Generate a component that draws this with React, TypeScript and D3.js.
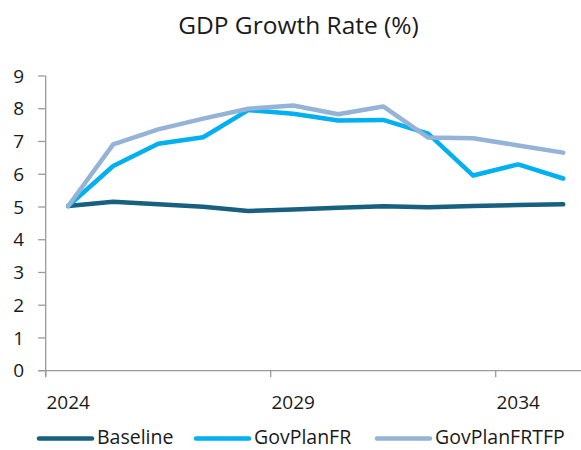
import React, { useEffect, useRef } from "react";
import * as d3 from "d3";

const years = [2024, 2025, 2026, 2027, 2028, 2029, 2030, 2031, 2032, 2033, 2034, 2035];
const baseline = [5.03, 5.16, 5.08, 5.01, 4.88, 4.92, 4.98, 5.02, 4.99, 5.03, 5.06, 5.08];
const govPlanFR = [5.03, 6.25, 6.93, 7.13, 7.96, 7.85, 7.64, 7.66, 7.24, 5.96, 6.3, 5.87];
const govPlanFRTFP = [5.03, 6.91, 7.37, 7.7, 8.0, 8.1, 7.83, 8.07, 7.12, 7.1, 6.88, 6.66];
const seriesNames = ["Baseline", "GovPlanFR", "GovPlanFRTFP"];
const seriesColors = ["#17607f", "#00b0f0", "#95b3d7"];
const yTicks = [0, 1, 2, 3, 4, 5, 6, 7, 8, 9];
const labelYears = [2024, 2029, 2034];

const W = 581;
const H = 450;
const FONT = "'Open Sans', 'Noto Sans', sans-serif";

export default function App() {
  const ref = useRef<SVGSVGElement | null>(null);

  useEffect(() => {
    const svg = d3.select(ref.current);
    svg.selectAll("*").remove();

    const left = 45.7;
    const top = 76;
    const bottom = 370.7;

    const x = d3
      .scaleBand<number>()
      .domain(years)
      .range([left, left + 45 * years.length])
      .paddingInner(0)
      .paddingOuter(0);
    const y = d3.scaleLinear().domain([0, 9]).range([bottom, top]);
    const cx = (yr: number) => (x(yr) as number) + x.bandwidth() / 2;

    // title
    svg
      .append("text")
      .attr("x", 298.5)
      .attr("y", 34)
      .attr("text-anchor", "middle")
      .attr("font-family", FONT)
      .attr("font-size", 24.5)
      .attr("fill", "#1a1a1a")
      .text("GDP Growth Rate (%)");

    const axisColor = "#9a9a9a";

    // y axis
    svg
      .append("line")
      .attr("x1", left)
      .attr("x2", left)
      .attr("y1", top)
      .attr("y2", bottom + 6)
      .attr("stroke", axisColor)
      .attr("stroke-width", 1.3);
    yTicks.forEach((t) => {
      svg
        .append("line")
        .attr("x1", left - 7.5)
        .attr("x2", left)
        .attr("y1", y(t))
        .attr("y2", y(t))
        .attr("stroke", axisColor)
        .attr("stroke-width", 1.3);
      svg
        .append("text")
        .attr("x", 24)
        .attr("y", y(t))
        .attr("dy", "0.35em")
        .attr("text-anchor", "end")
        .attr("font-family", FONT)
        .attr("font-size", 19)
        .attr("fill", "#1a1a1a")
        .text(String(t));
    });

    // x axis
    svg
      .append("line")
      .attr("x1", left - 7.5)
      .attr("x2", W)
      .attr("y1", bottom)
      .attr("y2", bottom)
      .attr("stroke", axisColor)
      .attr("stroke-width", 1.3);
    labelYears.forEach((yr) => {
      const bx = x(yr) as number;
      svg
        .append("line")
        .attr("x1", bx)
        .attr("x2", bx)
        .attr("y1", bottom)
        .attr("y2", bottom + 6.5)
        .attr("stroke", axisColor)
        .attr("stroke-width", 1.3);
      svg
        .append("text")
        .attr("x", cx(yr))
        .attr("y", 409)
        .attr("text-anchor", "middle")
        .attr("font-family", FONT)
        .attr("font-size", 19)
        .attr("fill", "#1a1a1a")
        .text(String(yr));
    });

    // series lines
    const line = d3
      .line<number>()
      .x((_, i) => cx(years[i]))
      .y((d) => y(d));
    [baseline, govPlanFR, govPlanFRTFP].forEach((vals, i) => {
      svg
        .append("path")
        .attr("d", line(vals) as string)
        .attr("fill", "none")
        .attr("stroke", seriesColors[i])
        .attr("stroke-width", 4.5)
        .attr("stroke-linejoin", "round")
        .attr("stroke-linecap", "round");
    });

    // legend
    const legendY = 438.5;
    const legendX = [39, 196, 377];
    seriesNames.forEach((name, i) => {
      const lx = legendX[i];
      svg
        .append("line")
        .attr("x1", lx)
        .attr("x2", lx + 53)
        .attr("y1", legendY)
        .attr("y2", legendY)
        .attr("stroke", seriesColors[i])
        .attr("stroke-width", 4.5)
        .attr("stroke-linecap", "round");
      svg
        .append("text")
        .attr("x", lx + 58)
        .attr("y", 444)
        .attr("font-family", FONT)
        .attr("font-size", 19.5)
        .attr("fill", "#1a1a1a")
        .text(name);
    });
  }, []);

  return (
    <svg
      ref={ref}
      width={W}
      height={H}
      style={{ position: "absolute", left: 0, top: 0, background: "#fff" }}
    />
  );
}
